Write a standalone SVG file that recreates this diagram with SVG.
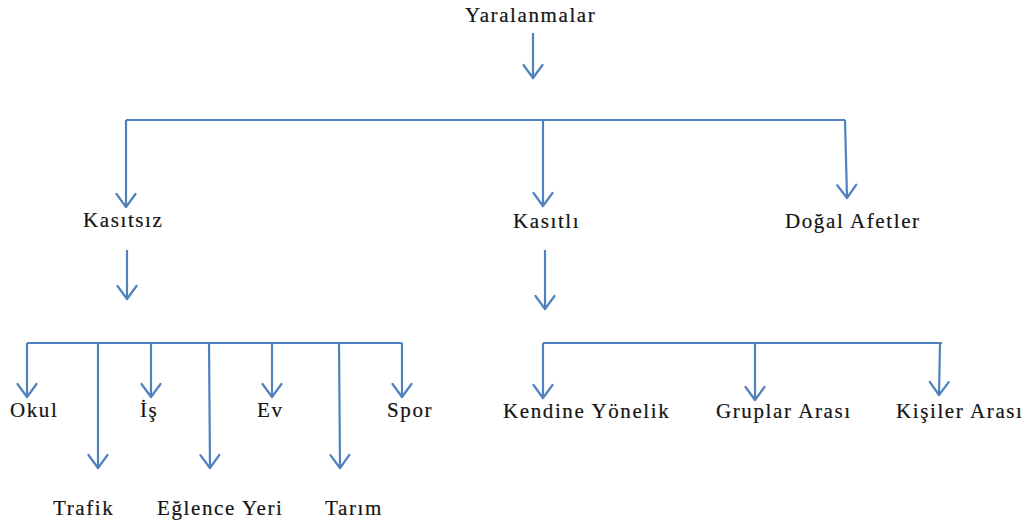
<svg xmlns="http://www.w3.org/2000/svg" width="1027" height="524" viewBox="0 0 1027 524">
<defs>
<marker id="ah" markerUnits="userSpaceOnUse" markerWidth="30" markerHeight="30" viewBox="-15 -15 30 30" refX="0" refY="0" orient="auto">
<path d="M-13,-9.5 L0,0 L-13,9.5" fill="none" stroke="#4F81BD" stroke-width="2.2" stroke-linecap="round" stroke-linejoin="round"/>
</marker>
</defs>
<style>
text{font-family:'Liberation Serif','Times New Roman',serif;font-size:21px;letter-spacing:1.6px;fill:#141414;stroke:#141414;stroke-width:0.2px}
.c{fill:none;stroke:#4F81BD;stroke-width:2.2}
.a{marker-end:url(#ah)}
</style>
<rect width="1027" height="524" fill="#ffffff"/>
<g id="connectors">
<path class="c a" d="M533,33 V78"/>
<path class="c" d="M126,120 H845"/>
<path class="c a" d="M126,120 V207"/>
<path class="c a" d="M543,120 V206"/>
<path class="c a" d="M845,120 L847,198"/>
<path class="c a" d="M127,250 V299"/>
<path class="c a" d="M545,250 V309"/>
<path class="c" d="M27,343 H402"/>
<path class="c a" d="M27,343 V397"/>
<path class="c a" d="M98,343 V468"/>
<path class="c a" d="M151,343 V397"/>
<path class="c a" d="M209,343 L210,468"/>
<path class="c a" d="M272,343 V397"/>
<path class="c a" d="M339,343 L340,468"/>
<path class="c a" d="M402,343 V397"/>
<path class="c" d="M543,343 H942"/>
<path class="c a" d="M543,343 V398"/>
<path class="c a" d="M755,343 V400"/>
<path class="c a" d="M940,343 L939,395"/>
</g>
<g id="yaralanmalar"><text x="465" y="22">Yaralanmalar</text></g>
<g id="kasitsiz"><text x="83" y="227">Kasıtsız</text></g>
<g id="kasitli"><text x="513" y="228">Kasıtlı</text></g>
<g id="dogal-afetler"><text x="785" y="228">Doğal Afetler</text></g>
<g id="okul"><text x="10" y="417">Okul</text></g>
<g id="is"><text x="140" y="417">İş</text></g>
<g id="ev"><text x="257" y="417">Ev</text></g>
<g id="spor"><text x="387" y="417">Spor</text></g>
<g id="trafik"><text x="53" y="515">Trafik</text></g>
<g id="eglence-yeri"><text x="157" y="515">Eğlence Yeri</text></g>
<g id="tarim"><text x="325" y="515">Tarım</text></g>
<g id="kendine-yonelik"><text x="503" y="418">Kendine Yönelik</text></g>
<g id="gruplar-arasi"><text x="716" y="418">Gruplar Arası</text></g>
<g id="kisiler-arasi"><text x="896" y="418">Kişiler Arası</text></g>
</svg>
